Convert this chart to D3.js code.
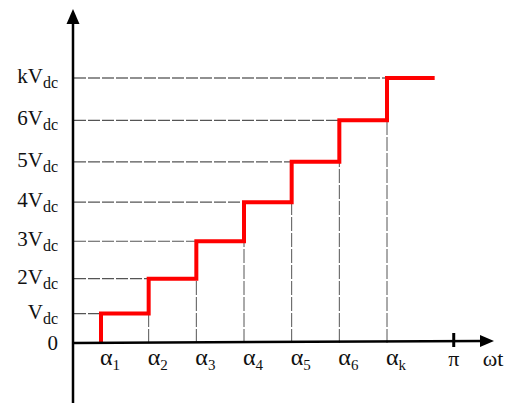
<!DOCTYPE html>
<html>
<head>
<meta charset="utf-8">
<script src="https://cdn.jsdelivr.net/npm/d3@7"></script>
<style>
  html, body { margin: 0; padding: 0; background: #fff; }
  svg { display: block; }
  text { font-family: "Liberation Serif", "DejaVu Serif", serif; fill: #111; }
</style>
</head>
<body>
<svg id="chart" width="514" height="403"></svg>
<script>
// Staircase output voltage of a multilevel converter over a half period
const levelValues = [0, 1, 2, 3, 4, 5, 6, 7];
const levelNames  = ["0", "V", "2V", "3V", "4V", "5V", "6V", "kV"];
const levelSubs   = ["", "dc", "dc", "dc", "dc", "dc", "dc", "dc"];

const angleValues = [1, 2, 3, 4, 5, 6, 7];   // switching angles α1 … αk
const angleSubs   = ["1", "2", "3", "4", "5", "6", "k"];
const stepEnd     = 8;                       // last level held until here
const piValue     = 8.4;                     // position of π on the ωt axis

const svg = d3.select("#chart");

const x = d3.scaleLinear().domain([1, 7]).range([101, 387]);
const y = d3.scalePow().exponent(1.13).domain([0, 7]).range([343, 78]);

const axisX = 73;
const axisY = y(0);

// Dashed guides: horizontal from the vertical axis to each switching angle
svg.append("g").selectAll("line")
  .data(angleValues)
  .join("line")
  .attr("x1", axisX + 1)
  .attr("x2", (d) => x(d))
  .attr("y1", (d, i) => y(levelValues[i + 1]))
  .attr("y2", (d, i) => y(levelValues[i + 1]))
  .attr("stroke", (d, i) => i === angleValues.length - 1 ? "#222" : "#555")
  .attr("stroke-width", 1.2)
  .attr("stroke-dasharray", "12,2");

// Dashed guides: vertical from the ωt axis up to the previous level
svg.append("g").selectAll("line")
  .data(angleValues.slice(1))
  .join("line")
  .attr("x1", (d) => x(d))
  .attr("x2", (d) => x(d))
  .attr("y1", axisY)
  .attr("y2", (d, i) => y(levelValues[i + 1]))
  .attr("stroke", "#555")
  .attr("stroke-width", 1)
  .attr("stroke-dasharray", "14,2");

// Staircase waveform
const pts = [[x(angleValues[0]), y(0)]];
angleValues.forEach((a, i) => {
  pts.push([x(a), y(levelValues[i + 1])]);
  const next = i + 1 < angleValues.length ? angleValues[i + 1] : stepEnd;
  pts.push([x(next), y(levelValues[i + 1])]);
});
svg.append("path")
  .attr("d", d3.line()(pts))
  .attr("fill", "none")
  .attr("stroke", "#ff0000")
  .attr("stroke-width", 4)
  .attr("stroke-linejoin", "miter")
  .attr("stroke-linecap", "butt");

// Axes with arrowheads
svg.append("line")
  .attr("x1", axisX).attr("x2", axisX)
  .attr("y1", 20).attr("y2", 403)
  .attr("stroke", "#000").attr("stroke-width", 2.5);
svg.append("path")
  .attr("d", `M${axisX},9 L${axisX - 6.5},24 L${axisX + 6.5},24 Z`)
  .attr("fill", "#000");

svg.append("line")
  .attr("x1", axisX).attr("x2", 484)
  .attr("y1", axisY).attr("y2", axisY - 2)
  .attr("stroke", "#000").attr("stroke-width", 2.5);
svg.append("path")
  .attr("d", `M494,${axisY - 2} L480,${axisY - 8} L480,${axisY + 4} Z`)
  .attr("fill", "#000");

// π tick
svg.append("line")
  .attr("x1", x(piValue)).attr("x2", x(piValue))
  .attr("y1", axisY - 10).attr("y2", axisY + 4)
  .attr("stroke", "#000").attr("stroke-width", 3);

// Level labels
const yl = svg.append("g").selectAll("text")
  .data(levelValues)
  .join("text")
  .attr("x", 58)
  .attr("y", (d) => y(d) + (d === 0 ? 7 : 5))
  .attr("text-anchor", "end")
  .style("font-size", "21px");
yl.append("tspan").text((d, i) => levelNames[i]);
yl.append("tspan")
  .attr("dy", 5)
  .style("font-size", "16px")
  .text((d, i) => levelSubs[i]);

// Angle labels
const xl = svg.append("g").selectAll("text")
  .data(angleValues)
  .join("text")
  .attr("x", (d) => x(d) - 1)
  .attr("y", axisY + 22)
  .style("font-size", "24px");
xl.append("tspan").text("α");
xl.append("tspan")
  .attr("dy", 5)
  .style("font-size", "15px")
  .text((d, i) => angleSubs[i]);

svg.append("text")
  .attr("x", x(piValue)).attr("y", axisY + 23)
  .attr("text-anchor", "middle")
  .style("font-size", "22px")
  .text("π");
svg.append("text")
  .attr("x", 493).attr("y", axisY + 23)
  .attr("text-anchor", "middle")
  .style("font-size", "22px")
  .text("ωt");
</script>
</body>
</html>
